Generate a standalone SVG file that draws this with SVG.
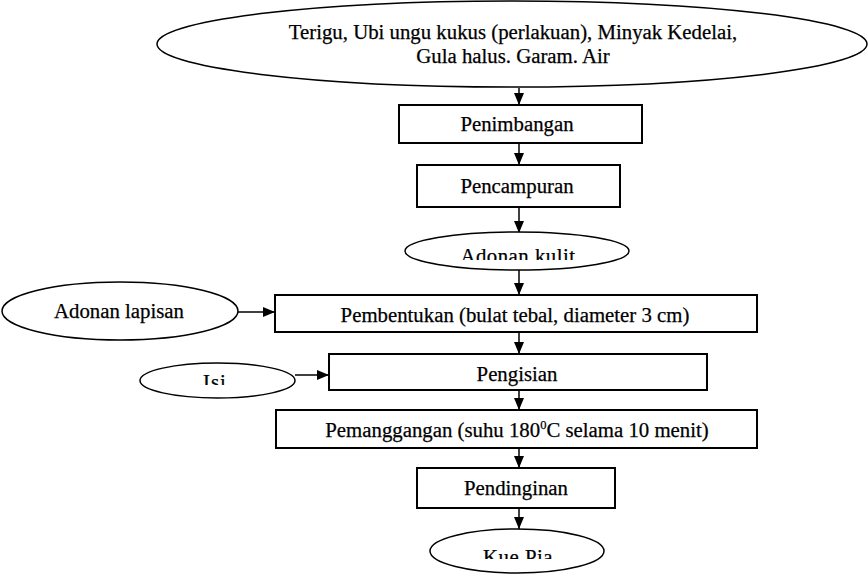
<svg xmlns="http://www.w3.org/2000/svg" width="868" height="575" viewBox="0 0 868 575">
<style>
.box{fill:#fff;stroke:#000;stroke-width:2}
.ell{fill:#fff;stroke:#000;stroke-width:1.5}
.t{font-family:"Liberation Serif","Times New Roman",serif;font-size:20.8px;fill:#000;stroke:#000;stroke-width:0.25;text-anchor:middle}
.c{stroke:#000;stroke-width:1.5;fill:none;marker-end:url(#ah)}
</style>
<defs>
<marker id="ah" markerUnits="userSpaceOnUse" markerWidth="12" markerHeight="12" viewBox="0 0 12 12" refX="12" refY="6" orient="auto">
<polygon points="0,1 12,6 0,11" fill="#000"/>
</marker>
<clipPath id="ck"><rect x="400" y="230" width="240" height="30"/></clipPath>
<clipPath id="ci"><rect x="140" y="360" width="160" height="25"/></clipPath>
<clipPath id="cp"><rect x="420" y="528" width="200" height="31"/></clipPath>
</defs>
<rect width="868" height="575" fill="#fff"/>
<g id="connectors">
<line class="c" x1="519" y1="88" x2="519" y2="105"/>
<line class="c" x1="519" y1="143" x2="519" y2="165"/>
<line class="c" x1="519" y1="207" x2="519" y2="233"/>
<line class="c" x1="519" y1="270" x2="519" y2="295"/>
<line class="c" x1="519" y1="332" x2="519" y2="354"/>
<line class="c" x1="519" y1="390" x2="519" y2="410"/>
<line class="c" x1="519" y1="448" x2="519" y2="468"/>
<line class="c" x1="519" y1="508" x2="519" y2="529"/>
<line class="c" x1="238" y1="312" x2="275" y2="312"/>
<line class="c" x1="295" y1="375" x2="329" y2="375"/>
</g>
<g id="bahan">
<ellipse class="ell" cx="512" cy="44" rx="355" ry="43"/>
<text class="t" x="513" y="39">Terigu, Ubi ungu kukus (perlakuan), Minyak Kedelai,</text>
<text class="t" x="513" y="63">Gula halus. Garam. Air</text>
</g>
<g id="penimbangan">
<rect class="box" x="399" y="105" width="243" height="38"/>
<text class="t" x="517" y="131">Penimbangan</text>
</g>
<g id="pencampuran">
<rect class="box" x="417" y="165" width="203" height="42"/>
<text class="t" x="517" y="193">Pencampuran</text>
</g>
<g id="adonan-kulit">
<ellipse class="ell" cx="517" cy="251" rx="112" ry="19"/>
<text class="t" x="518" y="263" clip-path="url(#ck)" letter-spacing="0.5">Adonan kulit</text>
</g>
<g id="adonan-lapisan">
<ellipse class="ell" cx="120" cy="311" rx="118" ry="29"/>
<text class="t" x="119" y="318">Adonan lapisan</text>
</g>
<g id="pembentukan">
<rect class="box" x="275" y="295" width="482" height="37"/>
<text class="t" x="515" y="322">Pembentukan (bulat tebal, diameter 3 cm)</text>
</g>
<g id="isi">
<ellipse class="ell" cx="217.5" cy="380.5" rx="77.5" ry="17.5"/>
<text class="t" x="215" y="389" clip-path="url(#ci)" letter-spacing="1">Isi</text>
</g>
<g id="pengisian">
<rect class="box" x="329" y="354" width="378" height="36"/>
<text class="t" x="517" y="381">Pengisian</text>
</g>
<g id="pemanggangan">
<rect class="box" x="276" y="410" width="481" height="38"/>
<text class="t" x="517" y="437">Pemanggangan (suhu 180<tspan font-size="12.5" dy="-8">0</tspan><tspan dy="8">C selama 10 menit)</tspan></text>
</g>
<g id="pendinginan">
<rect class="box" x="417" y="468" width="198" height="40"/>
<text class="t" x="516" y="495">Pendinginan</text>
</g>
<g id="kue-pia">
<ellipse class="ell" cx="517" cy="551" rx="87" ry="22"/>
<text class="t" x="518" y="564" clip-path="url(#cp)" letter-spacing="0.5">Kue Pia</text>
</g>
</svg>
